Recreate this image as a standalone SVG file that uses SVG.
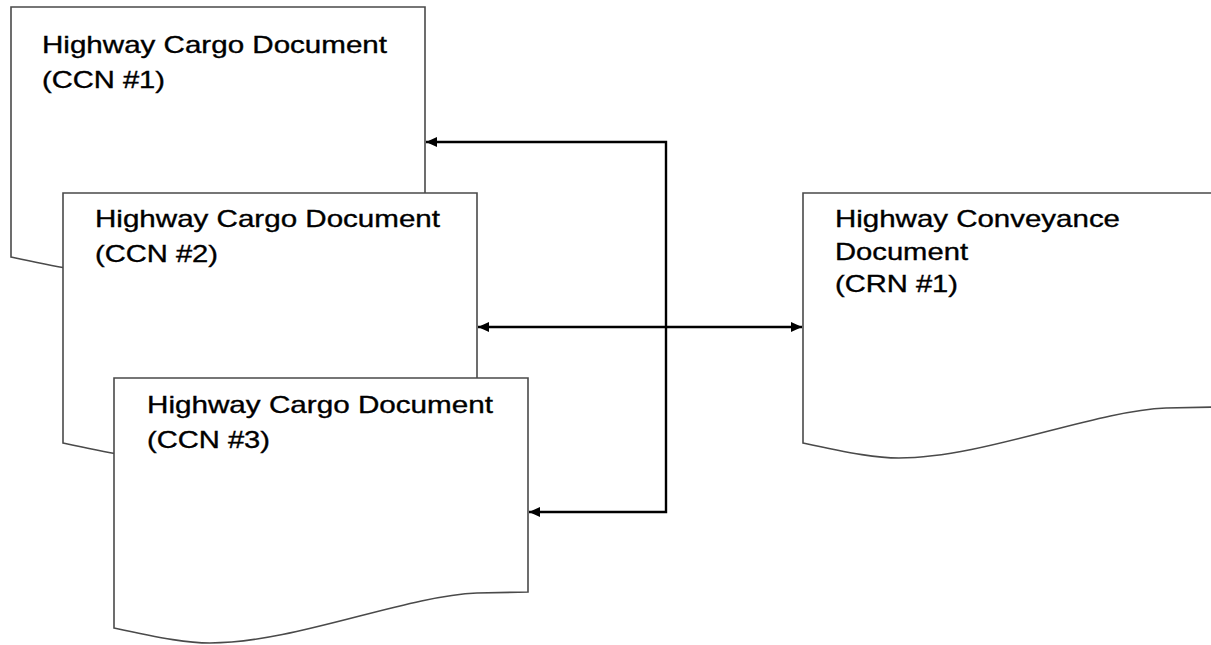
<svg xmlns="http://www.w3.org/2000/svg" xmlns:xlink="http://www.w3.org/1999/xlink" width="1211" height="645" viewBox="0 0 1211 645">
<style>
.doc{fill:#fff;stroke:#4a4a4a;stroke-width:1.6;stroke-linejoin:miter}
.lbl{font-family:"Liberation Sans",Arial,sans-serif;font-size:24px;fill:#000;stroke:#000;stroke-width:0.35}
.conn{fill:none;stroke:#000;stroke-width:2.4}
</style>
<defs>
<path id="docshape" d="M0,0 H414 V214 L363,215 C290,218 180,265 96,265 C75,265 50,261 0,250 Z"/>
<marker id="ah" markerUnits="userSpaceOnUse" markerWidth="13" markerHeight="11" refX="11" refY="5" orient="auto-start-reverse">
<path d="M0,0 L11,5 L0,10 Z" fill="#000"/>
</marker>
</defs>
<rect width="1211" height="645" fill="#fff"/>
<g id="doc1">
<use xlink:href="#docshape" class="doc" transform="translate(11,7)"/>
<text class="lbl" x="42" y="53" textLength="345" lengthAdjust="spacingAndGlyphs">Highway Cargo Document</text>
<text class="lbl" x="42" y="88" textLength="123" lengthAdjust="spacingAndGlyphs">(CCN #1)</text>
</g>
<g id="doc2">
<use xlink:href="#docshape" class="doc" transform="translate(63,193)"/>
<text class="lbl" x="95" y="227" textLength="345" lengthAdjust="spacingAndGlyphs">Highway Cargo Document</text>
<text class="lbl" x="95" y="262" textLength="123" lengthAdjust="spacingAndGlyphs">(CCN #2)</text>
</g>
<g id="doc3">
<use xlink:href="#docshape" class="doc" transform="translate(114,378)"/>
<text class="lbl" x="147" y="413" textLength="346" lengthAdjust="spacingAndGlyphs">Highway Cargo Document</text>
<text class="lbl" x="147" y="448" textLength="123" lengthAdjust="spacingAndGlyphs">(CCN #3)</text>
</g>
<g id="doc4">
<use xlink:href="#docshape" class="doc" transform="translate(803,193)"/>
<text class="lbl" x="835" y="227" textLength="285" lengthAdjust="spacingAndGlyphs">Highway Conveyance</text>
<text class="lbl" x="835" y="259.5" textLength="133" lengthAdjust="spacingAndGlyphs">Document</text>
<text class="lbl" x="835" y="292" textLength="123" lengthAdjust="spacingAndGlyphs">(CRN #1)</text>
</g>
<g id="connectors">
<path class="conn" d="M426,142 H666 V512 H529" marker-start="url(#ah)" marker-end="url(#ah)"/>
<path class="conn" d="M478,327 H802" marker-start="url(#ah)" marker-end="url(#ah)"/>
</g>
</svg>
